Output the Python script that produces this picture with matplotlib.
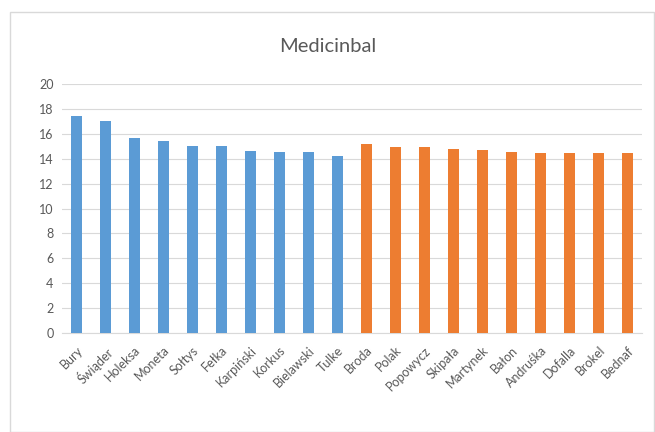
import matplotlib
matplotlib.use("Agg")
import matplotlib.pyplot as plt
from matplotlib.patches import Rectangle

names = ["Bury", "Świąder", "Holeksa", "Moneta", "Sołtys", "Fełka", "Karpiński",
         "Korkus", "Bielawski", "Tulke", "Broda", "Polak", "Popowycz", "Skipała",
         "Martynek", "Bałon", "Andruśka", "Dofalla", "Brokel", "Bednaf"]
values = [17.4, 17.05, 15.7, 15.45, 15.05, 15.0, 14.65, 14.5, 14.5, 14.2,
          15.2, 14.95, 14.9, 14.75, 14.7, 14.55, 14.45, 14.45, 14.45, 14.45]
groups = [0] * 10 + [1] * 10
palette = ["#5B9BD5", "#ED7D31"]
yticks = list(range(0, 21, 2))

plt.rcParams['font.family'] = ['Lato', 'DejaVu Sans']

fig = plt.figure(figsize=(6.55, 4.32), dpi=100)
fig.patches.append(Rectangle((10/655, 0), (655-10)/655 - 0.002, (432-12)/432,
                             transform=fig.transFigure, fill=False,
                             edgecolor="#D9D9D9", linewidth=1.0))
ax = fig.add_axes([62/655, 99/432, 580/655, 249/432])

x = list(range(len(names)))
ax.bar(x, values, width=0.36, color=[palette[g] for g in groups], zorder=3)

ax.set_ylim(0, 20)
ax.set_xlim(-0.5, len(names) - 0.5)
ax.set_yticks(yticks)
ax.set_yticklabels([str(t) for t in yticks], fontsize=9, color="#595959")
ax.set_xticks(x)
ax.set_xticklabels(names, rotation=45, ha="right", rotation_mode="anchor",
                   fontsize=9, color="#595959")
ax.tick_params(axis="x", length=0, pad=8)
ax.tick_params(axis="y", length=0, pad=6)
ax.grid(axis="y", color="#D9D9D9", linewidth=0.8, zorder=0)
for s in ["top", "right", "left"]:
    ax.spines[s].set_visible(False)
ax.spines["bottom"].set_color("#D9D9D9")

fig.text(0.5, 1 - 47/432, "Medicinbal", ha="center", va="center",
         fontsize=14.5, color="#595959")

fig.savefig("out.png", dpi=100)
